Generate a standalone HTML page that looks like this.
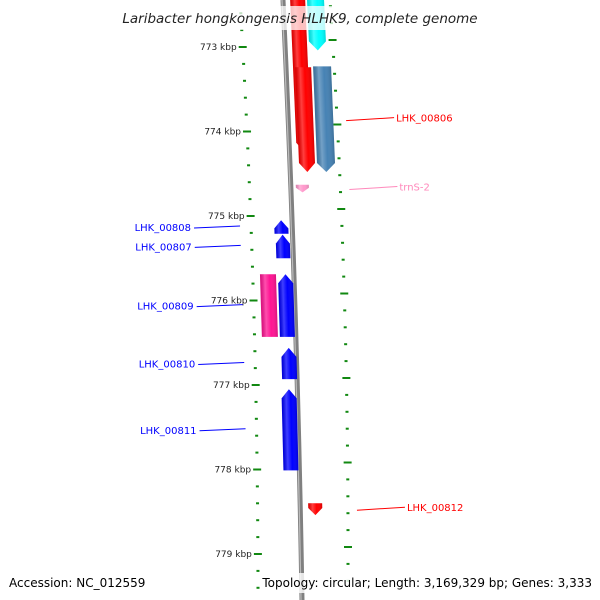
<!DOCTYPE html>
<html><head><meta charset="utf-8"><style>
body{margin:0;background:#fff}
svg{display:block;font-family:"DejaVu Sans","Liberation Sans",sans-serif}
</style></head><body>
<svg id="map" width="600" height="600" viewBox="0 0 600 600">
<defs>
<linearGradient id="shade" x1="0" x2="1" y1="0" y2="0">
<stop offset="0" stop-color="#000" stop-opacity="0.15"/><stop offset="0.3" stop-color="#fff" stop-opacity="0.25"/><stop offset="0.6" stop-color="#fff" stop-opacity="0"/><stop offset="1" stop-color="#000" stop-opacity="0.15"/>
</linearGradient>
</defs>
<path d="M283,0 Q297,300 302,600" stroke="#808080" stroke-width="5" fill="none"/>
<path d="M282,0 Q296,300 301,600" stroke="#bbb" stroke-width="1.2" fill="none"/>
<g id="ticks"></g>
<g id="features"></g>
<g id="labels"></g>
<rect x="120" y="6" width="360" height="24" fill="#fff" opacity="0.75"/>
<text x="300" y="23" text-anchor="middle" font-size="13.5" font-style="italic" fill="#222">Laribacter hongkongensis HLHK9, complete genome</text>
<rect x="260" y="573" width="334" height="20" fill="#fff" opacity="0.8"/>
<text x="9" y="587" font-size="12" fill="#000">Accession: NC_012559</text>
<text x="592" y="587" text-anchor="end" font-size="12" fill="#000">Topology: circular; Length: 3,169,329 bp; Genes: 3,333</text>
</svg>
<script>
const tickKbp=[773,774,775,776,777,778,779];
const featNames=["LHK_00805","cyan-gene","LHK_00806","steel-gene","trnS-2","LHK_00808","LHK_00807","magenta-gene","LHK_00809","LHK_00810","LHK_00811","LHK_00812"];
const featStart=[772.44,772.44,773.24,773.23,774.63,775.05,775.22,775.69,775.69,776.56,777.05,778.40];
const featEnd=[774.24,773.04,774.48,774.48,774.72,775.21,775.50,776.43,776.43,776.93,778.01,778.54];
const featStrand=[-1,-1,-1,-1,-1,1,1,-1,1,1,1,-1];
const featColor=["#ff0000","#00ffff","#ff0000","#4682b4","#ff99cc","#0000ff","#0000ff","#ff1493","#0000ff","#0000ff","#0000ff","#ff0000"];
const featOffset=[7,24,9,27,5,-18,-17,-34,-16,-15,-16,8];
const featWidth=[15,17,16,18,13,14,14,16,15,15,15,14];
const labelIdx=[2,4,5,6,8,9,10,11];
const NS="http://www.w3.org/2000/svg";
function y(k){return 47+(k-773)*84.5;}
function bx(yy){const t=yy/600;return (1-t)*(1-t)*283+2*t*(1-t)*297+t*t*302;}
function leftX(yy){return 240+18*(1-Math.pow(1-yy/600,2));}
function rightX(yy){return 330+18*(1-Math.pow(1-Math.min(yy,540)/540,2));}
function el(tag,attrs,parent){const e=document.createElementNS(NS,tag);for(const k in attrs)e.setAttribute(k,attrs[k]);parent.appendChild(e);return e;}
const tg=document.getElementById('ticks');
for(let k=772.2;k<=779.45;k+=0.2){
  const kk=Math.round(k*10)/10;const yy=y(kk);if(yy<0||yy>600)continue;
  const major=Math.abs(kk-Math.round(kk))<0.01;
  const l=el('rect',{x:leftX(yy)-(major?4:1.5),y:yy-1,width:major?8:3,height:2,fill:'#118811'},tg);
  
  
  const yr=yy-7;
  const r=el('rect',{x:rightX(yr)-(major?4:1.5),y:yr-1,width:major?8:3,height:2,fill:'#118811'},tg);
  
  
}
tickKbp.forEach(k=>{const yy=y(k);const t=el('text',{x:leftX(yy)-6,y:yy+3,'text-anchor':'end','font-size':'9',fill:'#222'},tg);t.textContent=k+' kbp';

});
const fg=document.getElementById('features');
featStart.forEach((s,i)=>{
  const y1=y(s),y2=y(featEnd[i]);const ym=(y1+y2)/2;const x0=bx(ym)+featOffset[i];const w=featWidth[i];
  const h=Math.min(9,(y2-y1)*0.6);let d;
  if(featStrand[i]<0){d=`M${x0},${y1} L${x0+w},${y1} L${x0+w},${y2-h} L${x0+w/2},${y2} L${x0},${y2-h}Z`;}
  else{d=`M${x0},${y1+h} L${x0+w/2},${y1} L${x0+w},${y1+h} L${x0+w},${y2} L${x0},${y2}Z`;}
  if(featNames[i]==='magenta-gene')d=`M${x0},${y1} L${x0+w},${y1} L${x0+w},${y2} L${x0},${y2}Z`;
  const p=el('path',{d:d,fill:featColor[i],transform:`skewX(${(bx(y2)-bx(y1))/(y2-y1)*57})`,'transform-origin':`${x0} ${ym}`},fg);
  
  
  el('path',{d:d,fill:'url(#shade)',transform:`skewX(${(bx(y2)-bx(y1))/(y2-y1)*57})`,'transform-origin':`${x0} ${ym}`},fg);
});
const lg=document.getElementById('labels');
labelIdx.forEach(i=>{
  const ym=(y(featStart[i])+y(featEnd[i]))/2;const col=featColor[i]==='#ff99cc'?'#ff88bb':featColor[i];
  const left=featStrand[i]>0;
  let ly=ym;
  if(left){
    const x2=leftX(ly)-11;
    el('line',{x1:x2-46,y1:ly+1,x2:x2,y2:ly-1,stroke:col,'stroke-width':1},lg);
    const t=el('text',{x:x2-49,y:ly+4,'text-anchor':'end','font-size':'10',fill:col},lg);t.textContent=featNames[i];
    
    
  }else{
    const x1=rightX(ly)+9;
    el('line',{x1:x1,y1:ly+1,x2:x1+48,y2:ly-2,stroke:col,'stroke-width':1},lg);
    const t=el('text',{x:x1+50,y:ly+2,'font-size':'10',fill:col},lg);t.textContent=featNames[i];
    
    
  }
});
</script>
</body></html>
